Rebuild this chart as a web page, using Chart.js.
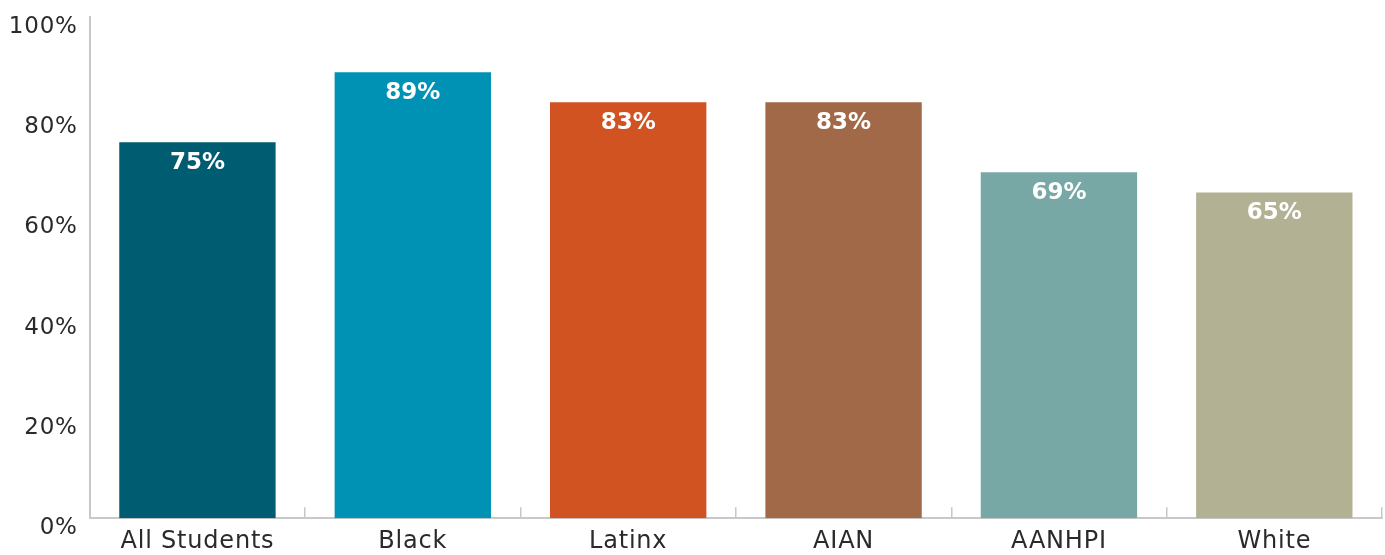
<!DOCTYPE html>
<html lang="en">
<head>
  <meta charset="UTF-8"/>
  <title>Share by group</title>
  <style>
    body { margin: 0; background: #fff; }
    #wrap { width: 1385px; height: 555px; }
  </style>
</head>
<body>
  <div id="wrap"><canvas id="chart" width="1385" height="555"></canvas></div>

  <script src="https://cdn.jsdelivr.net/npm/chart.js"></script>
  <script>
  // data
  const categories = ['All Students', 'Black', 'Latinx', 'AIAN', 'AANHPI', 'White'];
  const values = [75, 89, 83, 83, 69, 65];
  const barColors = ['#005C70', '#0092B4', '#D15321', '#A16947', '#78A8A5', '#B3B193'];
  const yTicks = [0, 20, 40, 60, 80, 100];

  const FONT = '"DejaVu Sans", sans-serif';

  // the reference face is wide, so open the letters up a little
  const spacing = {
    id: 'spacing',
    beforeDraw(chart) { chart.ctx.letterSpacing = '0.8px'; }
  };

  // white value labels just inside the top of each bar
  const barLabels = {
    id: 'barLabels',
    afterDatasetsDraw(chart) {
      const ctx = chart.ctx;
      const meta = chart.getDatasetMeta(0);
      ctx.save();
      ctx.letterSpacing = '0px';
      ctx.fillStyle = '#fff';
      ctx.font = 'bold 23px ' + FONT;
      ctx.textAlign = 'center';
      ctx.textBaseline = 'middle';
      meta.data.forEach((bar, i) => {
        ctx.fillText(values[i] + '%', bar.x, bar.y + 21);
      });
      ctx.restore();
    }
  };

  new Chart(document.getElementById('chart'), {
    type: 'bar',
    data: {
      labels: categories,
      datasets: [{
        data: values,
        backgroundColor: barColors,
        borderWidth: 0,
        categoryPercentage: 0.726,
        barPercentage: 1
      }]
    },
    options: {
      responsive: false,
      animation: false,
      layout: { padding: { top: 17, right: 3, left: 0, bottom: -21 } },
      plugins: { legend: { display: false }, tooltip: { enabled: false } },
      scales: {
        x: {
          grid: {
            offset: true,
            drawOnChartArea: false,
            drawTicks: true,
            tickLength: -11,
            color: '#c8c8c8',
            lineWidth: 1.5
          },
          border: { color: '#c8c8c8', width: 2 },
          ticks: {
            color: '#2a2a2a',
            font: { family: FONT, size: 24 },
            padding: 20
          }
        },
        y: {
          min: 0,
          max: 100,
          afterBuildTicks(axis) { axis.ticks = yTicks.map(v => ({ value: v })); },
          afterFit(axis) { axis.paddingTop = 0; axis.paddingBottom = 0; },
          grid: { display: false, drawTicks: false },
          border: { color: '#c8c8c8', width: 2 },
          ticks: {
            color: '#2a2a2a',
            font: { family: FONT, size: 23 },
            padding: 12,
            labelOffset: 10,
            callback: v => v + '%'
          }
        }
      }
    },
    plugins: [spacing, barLabels]
  });
  </script>
</body>
</html>
